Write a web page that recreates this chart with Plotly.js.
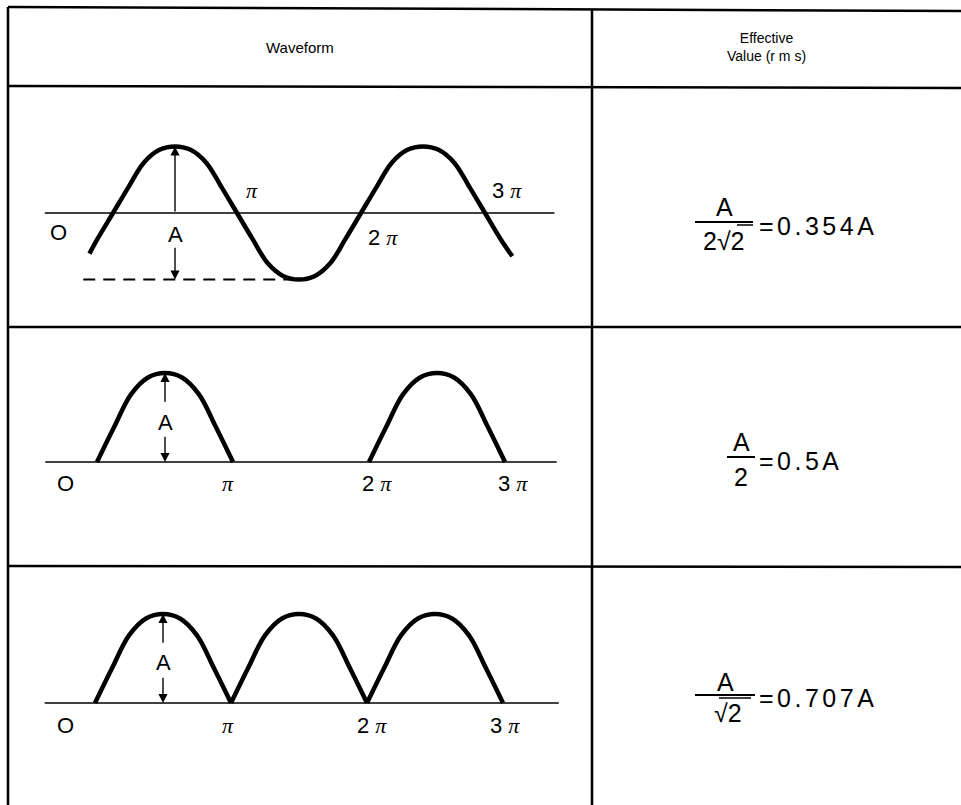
<!DOCTYPE html>
<html><head><meta charset="utf-8">
<script src="https://cdn.plot.ly/plotly-3.0.1.min.js"></script>
<style>body{margin:0;background:#fff}</style>
</head><body><div id="chart" style="width:961px;height:805px"></div>
<script>
// ---- data (x in units of π, y in units of the peak value) ----
const headerLabels = ["Waveform", "Effective<br>Value (r m s)"];
const tickLabels = ["O", "π", "2 π", "3 π"];
const ampLabel = "A";

const sineX = [-0.19, -0.125, 0, 0.125, 0.25, 0.375, 0.5, 0.625, 0.75, 0.875, 1, 1.125, 1.25, 1.375, 1.5, 1.625, 1.75, 1.875, 2, 2.125, 2.25, 2.375, 2.5, 2.625, 2.75, 2.875, 3, 3.125, 3.22];
const sineY = [-0.61, -0.39, 0, 0.39, 0.76, 0.95, 1, 0.95, 0.76, 0.39, 0, -0.39, -0.76, -0.95, -1, -0.95, -0.76, -0.39, 0, 0.39, 0.76, 0.95, 1, 0.95, 0.76, 0.39, 0, -0.39, -0.65];

const halfX = [0, 0.125, 0.25, 0.375, 0.5, 0.625, 0.75, 0.875, 1, null, 2, 2.125, 2.25, 2.375, 2.5, 2.625, 2.75, 2.875, 3];
const halfY = [0, 0.39, 0.76, 0.95, 1, 0.95, 0.76, 0.39, 0, null, 0, 0.39, 0.76, 0.95, 1, 0.95, 0.76, 0.39, 0];

const fullX = [0, 0.125, 0.25, 0.375, 0.5, 0.625, 0.75, 0.875, 1, null, 1, 1.125, 1.25, 1.375, 1.5, 1.625, 1.75, 1.875, 2, null, 2, 2.125, 2.25, 2.375, 2.5, 2.625, 2.75, 2.875, 3];
const fullY = [0, 0.39, 0.76, 0.95, 1, 0.95, 0.76, 0.39, 0, null, 0, 0.39, 0.76, 0.95, 1, 0.95, 0.76, 0.39, 0, null, 0, 0.39, 0.76, 0.95, 1, 0.95, 0.76, 0.39, 0];

const axisExtents = [[-0.55, 3.56], [-0.38, 3.38], [-0.37, 3.41]];
const rmsNumerators = ["A", "A", "A"];
const rmsDenominators = ["2√2", "2", "√2"];
const rmsValues = ["0.354A", "0.5A", "0.707A"];

// ---- layout helpers (pixel positions) ----
const W = 961, H = 805;
const px = x => x / W, py = y => 1 - y / H;
const L = 8, MID = 592;
const rows = [
  {x0: 113, ux: 124, y0: 213, uy: 66.5, top: 87, bot: 327},
  {x0: 97, ux: 136, y0: 462, uy: 89, top: 327, bot: 567},
  {x0: 95, ux: 136, y0: 703, uy: 89, top: 567, bot: 805}
];
const FONT = "Liberation Sans, Arial, Helvetica, sans-serif";
const PI = t => t.replace("π", '<span style="font-family:Liberation Serif;font-style:italic">π</span>');

const layout = {
  width: W, height: H, margin: {l: 0, r: 0, t: 0, b: 0},
  paper_bgcolor: "white", plot_bgcolor: "rgba(0,0,0,0)", showlegend: false,
  font: {family: FONT, color: "black"},
  shapes: [], annotations: []
};
rows.forEach((r, i) => {
  const s = i === 0 ? "" : String(i + 1);
  layout["xaxis" + s] = {domain: [px(L), px(MID)], range: [(L - r.x0) / r.ux, (MID - r.x0) / r.ux],
    visible: false, anchor: "y" + s, fixedrange: true};
  layout["yaxis" + s] = {domain: [py(r.bot), py(r.top)], range: [(r.y0 - r.bot) / r.uy, (r.y0 - r.top) / r.uy],
    visible: false, anchor: "x" + s, fixedrange: true};
});

const txt = (x, y, text, size, extra) => layout.annotations.push(Object.assign({
  xref: "paper", yref: "paper", x: px(x), y: py(y), text: text, showarrow: false,
  xanchor: "center", yanchor: "middle", font: {size: size, family: FONT, color: "black"}}, extra || {}));

// table grid
const gl = (x0, y0, x1, y1) => layout.shapes.push({type: "line", xref: "paper", yref: "paper",
  x0: px(x0), y0: py(y0), x1: px(x1), y1: py(y1), line: {color: "black", width: 2.5}});
gl(L, 7, W, 11);
gl(L, 86, W, 88);
gl(L, 327, W, 327);
gl(L, 566, W, 567);
gl(L, 7, L, H);
gl(MID, 9, MID, H);

// headers
txt(300, 48, headerLabels[0], 15);
txt(766, 47, headerLabels[1], 14);

// waveforms
const waves = [[sineX, sineY], [halfX, halfY], [fullX, fullY]];
const traces = waves.map((w, i) => ({
  type: "scatter", mode: "lines", x: w[0], y: w[1],
  xaxis: "x" + (i ? i + 1 : ""), yaxis: "y" + (i ? i + 1 : ""),
  line: {color: "black", width: 4.5, shape: "spline", smoothing: 1}, connectgaps: false, hoverinfo: "skip"
}));

// axis lines
axisExtents.forEach((e, i) => {
  const s = i ? String(i + 1) : "";
  layout.shapes.push({type: "line", xref: "x" + s, yref: "y" + s, x0: e[0], x1: e[1], y0: 0, y1: 0,
    line: {color: "black", width: 1.5}});
});
// dashed trough line (row 1)
layout.shapes.push({type: "line", xref: "x", yref: "y", x0: -0.24, x1: 1.42, y0: -1, y1: -1,
  line: {color: "black", width: 1.8, dash: "12px,8px"}});

// tick labels (pixel positions)
const labelPos = [
  [[58, 233], [252, 190], [383, 237], [507, 190]],
  [[65, 483], [228, 483], [377, 483], [513, 483]],
  [[65, 725], [228, 725], [372, 725], [505, 725]]
];
labelPos.forEach(rowPos => rowPos.forEach((p, j) => txt(p[0], p[1], PI(tickLabels[j]), 22)));

// amplitude arrows + A labels
const ampCfg = [
  {ay: -0.33, arrows: [[1, 0], [-1, -0.5]]},
  {ay: 0.44, arrows: [[1, 0.66], [0, 0.30]]},
  {ay: 0.46, arrows: [[1, 0.66], [0, 0.30]]}
];
ampCfg.forEach((c, i) => {
  const s = i ? String(i + 1) : "";
  layout.annotations.push({xref: "x" + s, yref: "y" + s, x: 0.5, y: c.ay, text: ampLabel, showarrow: false,
    xanchor: "center", yanchor: "middle", font: {size: 22, family: FONT, color: "black"}});
  c.arrows.forEach(a => layout.annotations.push({xref: "x" + s, yref: "y" + s, axref: "x" + s, ayref: "y" + s,
    x: 0.5, y: a[0], ax: 0.5, ay: a[1], text: "", showarrow: true, arrowhead: 2, arrowsize: 1.3,
    arrowwidth: 1.4, arrowcolor: "black", standoff: 0, startstandoff: 0}));
});

// rms formulas
const fCfg = [
  {num: [724, 207], bar: [695, 753, 222], den: [724, 241], val: [757, 226], vinc: [737, 753, 225]},
  {num: [741, 442], bar: [727, 755, 457], den: [741, 477], val: [757, 461]},
  {num: [725, 682], bar: [695, 755, 695], den: [728, 713], val: [757, 698], vinc: [719, 751, 698]}
];
const FS = 25;
fCfg.forEach((c, i) => {
  txt(c.num[0], c.num[1], rmsNumerators[i], FS);
  txt(c.den[0], c.den[1], rmsDenominators[i], FS);
  txt(c.val[0], c.val[1], '<span style="letter-spacing:3.5px">=' + rmsValues[i] + '</span>', FS, {xanchor: "left"});
  layout.shapes.push({type: "line", xref: "paper", yref: "paper", x0: px(c.bar[0]), x1: px(c.bar[1]),
    y0: py(c.bar[2]), y1: py(c.bar[2]), line: {color: "black", width: 2}});
  if (c.vinc) layout.shapes.push({type: "line", xref: "paper", yref: "paper", x0: px(c.vinc[0]), x1: px(c.vinc[1]),
    y0: py(c.vinc[2]), y1: py(c.vinc[2]), line: {color: "black", width: 1.5}});
});

Plotly.newPlot("chart", traces, layout, {displayModeBar: false, staticPlot: true});
</script>
</body></html>
